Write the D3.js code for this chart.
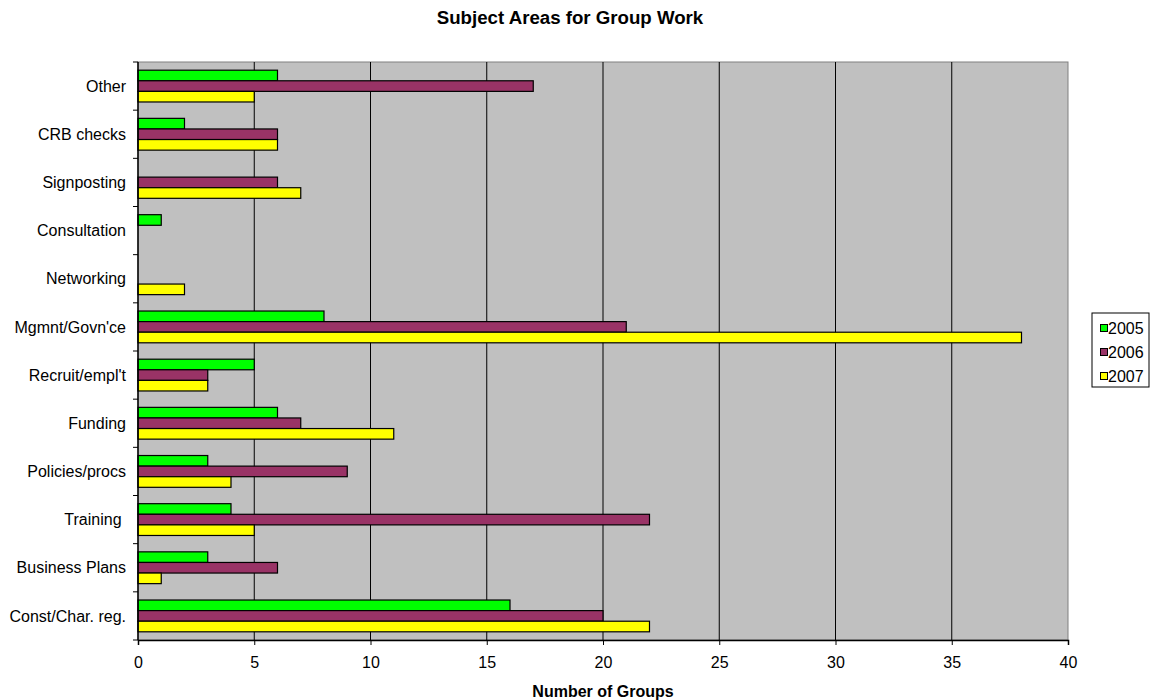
<!DOCTYPE html>
<html>
<head>
<meta charset="utf-8">
<script src="https://cdn.jsdelivr.net/npm/d3@7"></script>
<style>
  body { margin: 0; background: #fff; }
  text { font-family: "Liberation Sans", Arial, sans-serif; fill: #000; }
</style>
</head>
<body>
<div id="visual"></div>
<script>
// categories from top to bottom
const categories = ["Other", "CRB checks", "Signposting", "Consultation", "Networking", "Mgmnt/Govn'ce",
  "Recruit/empl't", "Funding", "Policies/procs", "Training ", "Business Plans", "Const/Char. reg."];
const seriesNames = ["2005", "2006", "2007"];
const values2005 = [6, 2, 0, 1, 0, 8, 5, 6, 3, 4, 3, 16];
const values2006 = [17, 6, 6, 0, 0, 21, 3, 7, 9, 22, 6, 20];
const values2007 = [5, 6, 7, 0, 2, 38, 3, 11, 4, 5, 1, 22];
const colors = ["#00ff00", "#993366", "#ffff00"];
const xTicks = [0, 5, 10, 15, 20, 25, 30, 35, 40];

const width = 1151, height = 700;
const margin = { top: 62, right: 83, bottom: 60, left: 138 };
const innerW = width - margin.left - margin.right;
const innerH = height - margin.top - margin.bottom;

const svg = d3.select("#visual").append("svg")
  .attr("width", width).attr("height", height);

const g = svg.append("g")
  .attr("transform", "translate(" + margin.left + "," + margin.top + ")");

const x = d3.scaleLinear().domain([0, 40]).range([0, innerW]);
const y = d3.scaleBand().domain(categories).range([0, innerH]).paddingInner(0.34).paddingOuter(0.17);
const ySub = d3.scaleBand().domain(seriesNames).range([0, y.bandwidth()]);

// plot background
g.append("rect")
  .attr("width", innerW).attr("height", innerH)
  .attr("fill", "#c0c0c0").attr("stroke", "#808080").attr("stroke-width", 1);

// vertical gridlines
g.selectAll(".grid").data(xTicks.slice(1, -1)).join("line")
  .attr("x1", d => x(d)).attr("x2", d => x(d))
  .attr("y1", 0).attr("y2", innerH)
  .attr("stroke", "#000").attr("stroke-width", 1);

// bars
const series = [values2005, values2006, values2007];
series.forEach((vals, si) => {
  g.selectAll(".bar" + si).data(categories.map((c, i) => ({ c, v: vals[i] })).filter(d => d.v > 0))
    .join("rect")
    .attr("x", 0)
    .attr("y", d => y(d.c) + ySub(seriesNames[si]))
    .attr("width", d => x(d.v))
    .attr("height", ySub.bandwidth())
    .attr("fill", colors[si])
    .attr("stroke", "#000").attr("stroke-width", 1.2);
});

// x axis
const xAxis = g.append("g")
  .attr("transform", "translate(0," + innerH + ")")
  .call(d3.axisBottom(x).tickValues(xTicks).tickSize(5).tickPadding(12));
xAxis.select(".domain").attr("stroke", "#000").attr("stroke-width", 1.5);
xAxis.selectAll("text").style("font-size", "16px").style("font-family", "Liberation Sans, Arial, sans-serif");

// y axis line and ticks at band boundaries
const step = innerH / categories.length;
g.append("line").attr("x1", 0).attr("x2", 0).attr("y1", 0).attr("y2", innerH)
  .attr("stroke", "#000").attr("stroke-width", 1.5);
g.selectAll(".ytick").data(d3.range(categories.length + 1)).join("line")
  .attr("x1", -5).attr("x2", 0)
  .attr("y1", d => d * step).attr("y2", d => d * step)
  .attr("stroke", "#000");

g.selectAll(".ylabel").data(categories).join("text")
  .attr("x", -12)
  .attr("y", d => y(d) + y.bandwidth() / 2)
  .attr("dy", "0.35em")
  .attr("text-anchor", "end")
  .style("white-space", "pre")
  .style("font-size", "16px")
  .text(d => d);

// title
svg.append("text")
  .attr("x", 570).attr("y", 24)
  .attr("text-anchor", "middle")
  .style("font-size", "18.67px").style("font-weight", "bold")
  .text("Subject Areas for Group Work");

// x axis title
svg.append("text")
  .attr("x", margin.left + innerW / 2).attr("y", 697)
  .attr("text-anchor", "middle")
  .style("font-size", "16px").style("font-weight", "bold")
  .text("Number of Groups");

// legend
const legend = svg.append("g").attr("transform", "translate(1092,313)");
legend.append("rect").attr("width", 57).attr("height", 74)
  .attr("fill", "#fff").attr("stroke", "#000");
seriesNames.forEach((s, i) => {
  legend.append("rect")
    .attr("x", 8.5).attr("y", 11.5 + i * 24)
    .attr("width", 7).attr("height", 7)
    .attr("fill", colors[i]).attr("stroke", "#000");
  legend.append("text")
    .attr("x", 16).attr("y", 15 + i * 24)
    .attr("dy", "0.35em")
    .style("font-size", "16px")
    .text(s);
});
</script>
</body>
</html>
